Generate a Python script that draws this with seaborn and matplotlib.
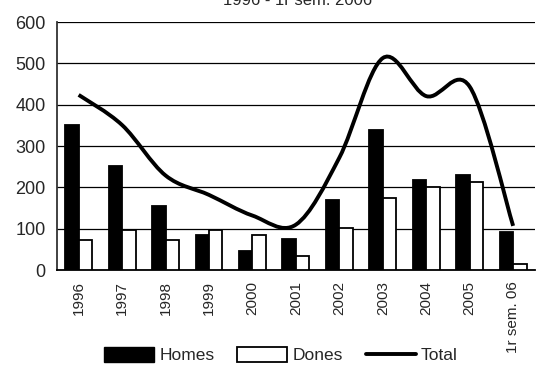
import matplotlib
matplotlib.use("Agg")
import matplotlib.pyplot as plt
from matplotlib.path import Path
from matplotlib.patches import PathPatch, Patch
from matplotlib.lines import Line2D
import numpy as np
import pandas as pd
import seaborn as sns

# data
years = ["1996", "1997", "1998", "1999", "2000", "2001", "2002", "2003",
         "2004", "2005", "1r sem. 06"]
homes = [350, 253, 155, 84, 46, 76, 170, 339, 219, 231, 93]
dones = [74, 98, 74, 98, 86, 34, 102, 174, 202, 213, 14]
total = [424, 351, 229, 182, 132, 110, 272, 513, 421, 444, 107]

sns.set_style("white")
plt.rcParams["font.family"] = ["Liberation Sans", "DejaVu Sans"]

df = pd.DataFrame({
    "any": years * 2,
    "valor": homes + dones,
    "serie": ["Homes"] * len(years) + ["Dones"] * len(years),
})

fig = plt.figure(figsize=(5.37, 3.69), dpi=100)
ax = fig.add_axes([0.106, 0.268, 0.890, 0.672])

sns.barplot(data=df, x="any", y="valor", hue="serie", order=years,
            palette={"Homes": "black", "Dones": "white"},
            edgecolor="black", linewidth=1.3, width=0.62, ax=ax,
            legend=False, zorder=3)

# smoothed total line (Bezier through the points, like a spreadsheet chart)
xs = np.arange(len(total), dtype=float)
ys = np.array(total, dtype=float)
verts = [(xs[0], ys[0])]
codes = [Path.MOVETO]
n = len(xs)
for i in range(n - 1):
    p0 = np.array([xs[max(i - 1, 0)], ys[max(i - 1, 0)]])
    p1 = np.array([xs[i], ys[i]])
    p2 = np.array([xs[i + 1], ys[i + 1]])
    p3 = np.array([xs[min(i + 2, n - 1)], ys[min(i + 2, n - 1)]])
    c1 = p1 + (p2 - p0) / 6
    c2 = p2 - (p3 - p1) / 6
    verts += [tuple(c1), tuple(c2), tuple(p2)]
    codes += [Path.CURVE4] * 3
ax.add_patch(PathPatch(Path(verts, codes), facecolor="none",
                       edgecolor="black", linewidth=2.8, zorder=4,
                       capstyle="butt"))

ax.set_xlim(-0.5, len(years) - 0.5)
ax.set_ylim(0, 600)
ax.set_yticks(range(0, 601, 100))
ax.yaxis.grid(True, color="black", linewidth=0.9)
ax.set_axisbelow(True)
ax.set_xlabel("")
ax.set_ylabel("")

for s in ["top", "right"]:
    ax.spines[s].set_visible(False)
ax.spines["left"].set_color("#333333")
ax.spines["left"].set_linewidth(1.3)
ax.spines["bottom"].set_color("black")
ax.spines["bottom"].set_linewidth(1.3)

ax.set_xticks(range(len(years)))
ax.set_xticklabels(years, rotation=90, fontsize=11)
ax.set_xticks(np.arange(-0.5, len(years), 1.0), minor=True)
ax.tick_params(axis="x", which="major", length=0, pad=8)
ax.tick_params(axis="x", which="minor", length=5, width=1, color="black",
               direction="out")
ax.tick_params(axis="y", length=5, width=1, color="black", direction="out",
               labelsize=13, pad=3)

handles = [
    Patch(facecolor="black", edgecolor="black", label="Homes"),
    Patch(facecolor="white", edgecolor="black", linewidth=1.3, label="Dones"),
    Line2D([0], [0], color="black", linewidth=2.8, label="Total"),
]
fig.legend(handles=handles, loc="center", bbox_to_anchor=(0.523, 0.037),
           ncol=3, frameon=False, fontsize=12.5, handlelength=2.9,
           handleheight=0.9, handletextpad=0.3, columnspacing=1.3)

fig.text(0.555, 1 - 5 / 369, "1996 - 1r sem. 2006", ha="center",
         va="baseline", fontsize=12)

fig.savefig("out.png", dpi=100)
